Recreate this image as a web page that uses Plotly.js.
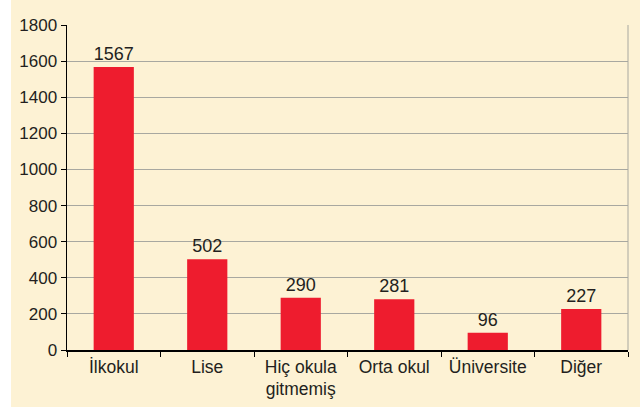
<!DOCTYPE html>
<html><head><meta charset="utf-8">
<script src="https://cdn.plot.ly/plotly-3.0.1.min.js"></script>
<style>html,body{margin:0;padding:0;background:#ffffff;}#c{position:absolute;left:11px;top:0;width:629px;height:407px;}</style>
</head><body><div id="c"></div>
<script>
const categories = ['İlkokul', 'Lise', 'Hiç okula<br>gitmemiş', 'Orta okul', 'Üniversite', 'Diğer'];
const values = [1567, 502, 290, 281, 96, 227];
const yTicks = [0, 200, 400, 600, 800, 1000, 1200, 1400, 1600, 1800];

const trace = {
  type: 'bar', x: categories, y: values,
  marker: {color: '#ee1c2e'},
  text: values.map(String), textposition: 'outside',
  textfont: {size: 18, color: '#231f20'},
  cliponaxis: false, width: 0.43, hoverinfo: 'none'
};
const layout = {
  width: 629, height: 407,
  margin: {l: 56, r: 12, t: 25, b: 57},
  paper_bgcolor: '#fdf2d4', plot_bgcolor: '#fdf2d4',
  font: {family: 'Liberation Sans, Arial, sans-serif', size: 17, color: '#231f20'},
  showlegend: false,
  xaxis: {type: 'category', tickson: 'boundaries', ticks: 'outside', ticklen: 5, tickcolor: '#000',
          showline: true, linecolor: '#000', linewidth: 1.5, showgrid: false, tickfont: {size: 17.5}},
  yaxis: {range: [0, 1800], tickvals: yTicks, ticks: 'outside', ticklen: 5, tickcolor: '#000',
          showline: true, linecolor: '#000', linewidth: 1.5, gridcolor: '#a8a8a0', gridwidth: 1,
          zeroline: false, tickfont: {size: 17}},
  shapes: [{type: 'line', xref: 'paper', yref: 'paper', x0: 1, x1: 1, y0: 0, y1: 1,
            line: {color: '#a8a8a0', width: 1}}]
};
Plotly.newPlot('c', [trace], layout, {displayModeBar: false, staticPlot: true});
</script></body></html>
